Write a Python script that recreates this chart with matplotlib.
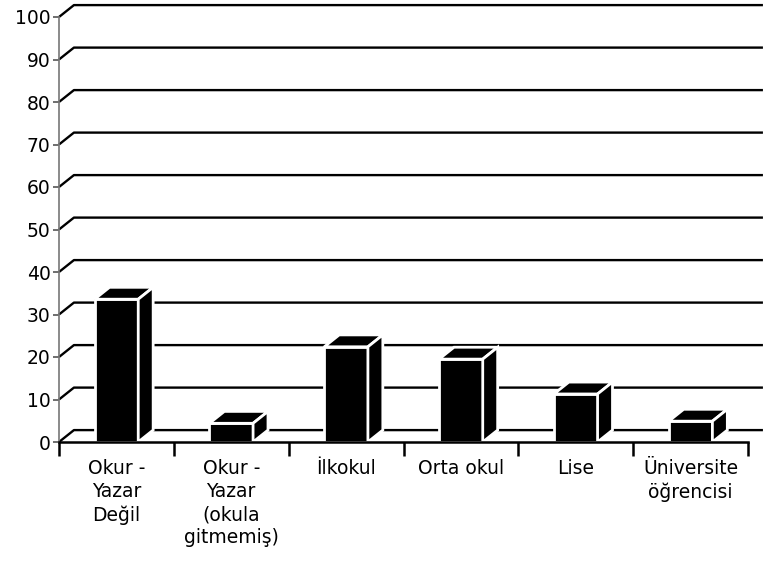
import numpy as np
import matplotlib.pyplot as plt
from matplotlib.patches import Polygon

categories = ["Okur -\nYazar\nDeğil", "Okur -\nYazar\n(okula\ngitmemiş)", "İlkokul",
              "Orta okul", "Lise", "Üniversite\nöğrencisi"]
values = [33.6, 4.4, 22.4, 19.5, 11.3, 4.9]
yticks = list(range(0, 101, 10))

W, H = 774, 572
fig = plt.figure(figsize=(W / 100, H / 100), dpi=100)
ax = fig.add_axes([59 / W, (H - 442) / H, (748 - 59) / W, (442 - 17) / H])
ax.set_xlim(-0.5, len(categories) - 0.5)
ax.set_ylim(0, 100)

# depth offset of the pseudo-3d look (data units)
dx, dy = 0.13, 2.8
bw = 0.38

# back wall gridlines with slanted connector from the front axis
x0, x1 = -0.5, len(categories) - 0.5
for v in yticks:
    ax.plot([x0, x0 + dx, x1 + dx], [v, v + dy, v + dy], color='black', lw=1.7,
            clip_on=False, zorder=1, solid_capstyle='butt')

xs = np.arange(len(categories))
ax.bar(xs, values, bw, color='black', edgecolor='white', linewidth=2, zorder=3)
for c, v in zip(xs, values):
    l, r = c - bw / 2, c + bw / 2
    top = Polygon([(l, v), (l + dx, v + dy), (r + dx, v + dy), (r, v)], closed=True,
                  facecolor='black', edgecolor='white', lw=2, zorder=3, clip_on=False)
    side = Polygon([(r, 0), (r, v), (r + dx, v + dy), (r + dx, dy)], closed=True,
                   facecolor='black', edgecolor='white', lw=2, zorder=3, clip_on=False)
    ax.add_patch(top)
    ax.add_patch(side)

for s in ['top', 'right']:
    ax.spines[s].set_visible(False)
ax.spines['left'].set_color('#777777')
ax.spines['left'].set_linewidth(1.2)
ax.spines['bottom'].set_linewidth(1.8)
ax.spines['bottom'].set_zorder(4)

ax.set_yticks(yticks)
ax.tick_params(axis='y', length=4, width=1.2, color='#555555', labelsize=13.5, pad=2)
ax.set_xticks(xs)
ax.set_xticklabels(categories, fontsize=13.5, linespacing=1.28)
ax.set_xticks(np.arange(-0.5, len(categories)), minor=True)
ax.tick_params(axis='x', which='major', length=0, pad=12)
ax.tick_params(axis='x', which='minor', length=10, width=1.8, color='black')

fig.savefig('out.png', dpi=100)
